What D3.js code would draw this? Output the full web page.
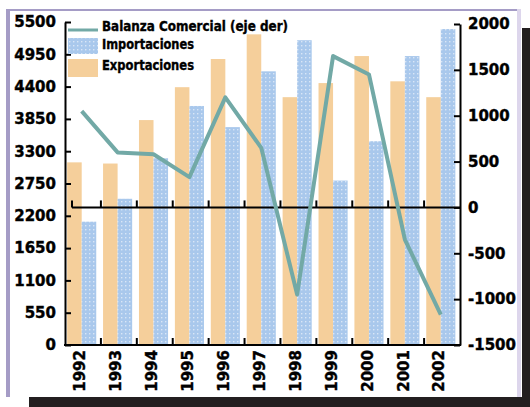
<!DOCTYPE html>
<html>
<head>
<meta charset="utf-8">
<script src="https://d3js.org/d3.v7.min.js"></script>
<style>
  body { margin: 0; background: #fff; }
  svg { display: block; }
  .tick text, .lbl { font-family: "DejaVu Sans", sans-serif; font-weight: bold; fill: #000; }
</style>
</head>
<body>
<div id="chart"></div>
<script>
  // data
  var years = ["1992", "1993", "1994", "1995", "1996", "1997", "1998", "1999", "2000", "2001", "2002"];
  var exportaciones = [3110, 3090, 3830, 4390, 4870, 5290, 4220, 4460, 4920, 4490, 4220];
  var importaciones = [2100, 2490, 3180, 4070, 3710, 4660, 5190, 2800, 3470, 4920, 5380];
  var balanza = [1050, 600, 580, 330, 1200, 650, -950, 1650, 1450, -350, -1170];
  var leftTicks = [0, 550, 1100, 1650, 2200, 2750, 3300, 3850, 4400, 4950, 5500];
  var rightTicks = [-1500, -1000, -500, 0, 500, 1000, 1500, 2000];
  var seriesNames = ["Balanza Comercial (eje der)", "Importaciones", "Exportaciones"];

  var W = 530, H = 407;
  var plot = {left: 65, right: 460, top: 22, bottom: 345};

  var colExp = "#f5cf9b",
    colImp = "#a9c8ec",
    colLine = "#72a9a6";

  var svg = d3.select("#chart").append("svg").attr("width", W).attr("height", H);

  // blue dotted fill like the printed screen
  var pat = svg.append("defs").append("pattern")
    .attr("id", "dots").attr("patternUnits", "userSpaceOnUse")
    .attr("width", 4).attr("height", 4);
  pat.append("rect").attr("width", 4).attr("height", 4).attr("fill", colImp);
  pat.append("rect").attr("x", 1).attr("y", 1).attr("width", 1.4).attr("height", 1.4).attr("fill", "#d9e6f6");

  // card + shadow
  svg.append("rect").attr("x", 29).attr("y", 28).attr("width", W - 29).attr("height", H - 28).attr("fill", "#231f20");
  svg.append("rect").attr("x", 6).attr("y", 9).attr("width", 516).attr("height", 388).attr("fill", "#fff");
  svg.append("rect").attr("x", 6).attr("y", 9).attr("width", 4).attr("height", 388).attr("fill", "#a59cc6");
  svg.append("rect").attr("x", 6).attr("y", 9).attr("width", 512).attr("height", 2).attr("fill", "#a59cc6");
  svg.append("rect").attr("x", 517).attr("y", 9).attr("width", 4).attr("height", 388).attr("fill", "#ddd6ec");

  var x0 = d3.scaleBand().domain(years).range([plot.left, plot.right]);
  var x1 = d3.scaleBand().domain(["exp", "imp"])
    .range([x0.bandwidth() * 0.06, x0.bandwidth() * 0.87]);
  var yL = d3.scaleLinear().domain([0, 5500]).range([plot.bottom, plot.top]);
  var yR = d3.scaleLinear().domain([-1500, 2000]).range([plot.bottom, plot.top + 2]);

  var bars = svg.append("g");
  bars.selectAll(".exp").data(years).enter().append("rect")
    .attr("x", function (d) { return x0(d) + x1("exp"); })
    .attr("y", function (d, i) { return yL(exportaciones[i]); })
    .attr("width", x1.bandwidth())
    .attr("height", function (d, i) { return yL(0) - yL(exportaciones[i]); })
    .attr("fill", colExp);
  bars.selectAll(".imp").data(years).enter().append("rect")
    .attr("x", function (d) { return x0(d) + x1("imp"); })
    .attr("y", function (d, i) { return yL(importaciones[i]); })
    .attr("width", x1.bandwidth())
    .attr("height", function (d, i) { return yL(0) - yL(importaciones[i]); })
    .attr("fill", "url(#dots)");

  // zero line of the right axis with little ticks
  var zy = yR(0);
  var zl = svg.append("g").attr("stroke", "#000").attr("stroke-width", 2);
  zl.append("line").attr("x1", plot.left + 7).attr("x2", plot.right).attr("y1", zy).attr("y2", zy);
  zl.append("line").attr("x1", plot.left + 7).attr("x2", plot.left + 7).attr("y1", zy).attr("y2", zy - 7);
  zl.selectAll(".zt").data(years.slice(1)).enter().append("line")
    .attr("x1", function (d) { return x0(d); }).attr("x2", function (d) { return x0(d); })
    .attr("y1", zy).attr("y2", zy - 7);

  // balance line
  var line = d3.line()
    .x(function (d, i) { return x0(years[i]) + x1("imp"); })
    .y(function (d) { return yR(d); });
  svg.append("path").datum(balanza)
    .attr("d", line)
    .attr("fill", "none")
    .attr("stroke", colLine)
    .attr("stroke-width", 4)
    .attr("stroke-linejoin", "round");

  // axes (plain hyphen for negatives, as printed)
  var fmt = function (d) { return String(d); };
  var axL = svg.append("g").attr("transform", "translate(" + plot.left + ",0)")
    .call(d3.axisLeft(yL).tickValues(leftTicks).tickSizeInner(-6).tickSizeOuter(0).tickPadding(9).tickFormat(fmt));
  var axR = svg.append("g").attr("transform", "translate(" + plot.right + ",0)")
    .call(d3.axisRight(yR).tickValues(rightTicks).tickSizeInner(-6).tickSizeOuter(0).tickPadding(8).tickFormat(fmt));
  var axB = svg.append("g").attr("transform", "translate(0," + plot.bottom + ")")
    .call(d3.axisBottom(x0).tickSize(0).tickPadding(0));
  axB.selectAll(".tick text")
    .attr("transform", "rotate(-90)")
    .attr("x", -5).attr("y", -3).attr("dy", "0.36em")
    .style("text-anchor", "end");
  axB.select(".domain").remove();
  svg.append("g").attr("stroke", "#000").attr("stroke-width", 2)
    .selectAll("line").data(years.slice(1)).enter().append("line")
    .attr("x1", function (d) { return x0(d); }).attr("x2", function (d) { return x0(d); })
    .attr("y1", plot.bottom).attr("y2", plot.bottom - 7);
  svg.append("line").attr("x1", plot.left - 1).attr("x2", plot.right + 1)
    .attr("y1", plot.bottom).attr("y2", plot.bottom).attr("stroke", "#000").attr("stroke-width", 2);

  [axL, axR, axB].forEach(function (a) {
    a.selectAll(".domain, .tick line").attr("stroke", "#000").attr("stroke-width", 2);
    a.selectAll(".tick text").style("font-size", "15px").attr("stroke", "#000").attr("stroke-width", 0.4);
  });

  // legend
  var lg = svg.append("g");
  lg.append("line").attr("x1", 68).attr("x2", 98).attr("y1", 30).attr("y2", 30)
    .attr("stroke", colLine).attr("stroke-width", 3);
  lg.append("rect").attr("x", 68).attr("y", 38).attr("width", 30).attr("height", 16).attr("fill", "url(#dots)");
  lg.append("rect").attr("x", 68).attr("y", 59).attr("width", 30).attr("height", 18).attr("fill", colExp);
  var lw = [186, 92, 92], ly = [31, 49, 70];
  lg.selectAll(".lbl").data(seriesNames).enter().append("text")
    .attr("class", "lbl")
    .attr("x", 102).attr("y", function (d, i) { return ly[i]; })
    .attr("textLength", function (d, i) { return lw[i]; })
    .attr("lengthAdjust", "spacingAndGlyphs")
    .style("font-size", "14px")
    .attr("stroke", "#000").attr("stroke-width", 0.4)
    .text(function (d) { return d; });
</script>
</body>
</html>
